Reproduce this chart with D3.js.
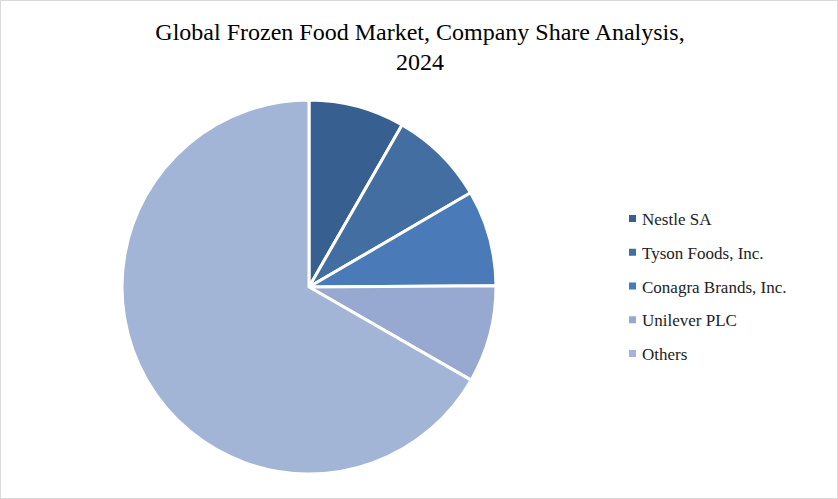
<!DOCTYPE html>
<html><head><meta charset="utf-8">
<script src="https://cdn.jsdelivr.net/npm/d3@7"></script>
<style>body{margin:0;background:#fff}svg{display:block}</style>
</head><body>
<script>
const categories = ["Nestle SA","Tyson Foods, Inc.","Conagra Brands, Inc.","Unilever PLC","Others"];
const shares = [8.3, 8.3, 8.3, 8.4, 66.7];
const colors = ["#375f8f","#436ea1","#4a7bb8","#97a9d1","#a3b5d6"];
const W=838,H=499;
const svg=d3.select("body").append("svg").attr("width",W).attr("height",H);
svg.append("rect").attr("x",0.5).attr("y",0.5).attr("width",W-1).attr("height",H-1).attr("fill","#fff").attr("stroke","#d9d9d9");
svg.append("text").attr("x",420).attr("y",40).attr("text-anchor","middle").attr("font-family","Liberation Serif").attr("font-size",24).text("Global Frozen Food Market, Company Share Analysis,");
svg.append("text").attr("x",420).attr("y",70).attr("text-anchor","middle").attr("font-family","Liberation Serif").attr("font-size",24).text("2024");
const pie=d3.pie().sort(null)(shares);
const arc=d3.arc().innerRadius(0).outerRadius(187);
const g=svg.append("g").attr("transform","translate(309,287)");
g.selectAll("path").data(pie).join("path").attr("d",arc).attr("fill",(d,i)=>colors[i]).attr("stroke","#fff").attr("stroke-width",3);
const y=d3.scalePoint().domain(categories).range([219,354]);
const lg=svg.append("g");
categories.forEach((c,i)=>{
  lg.append("rect").attr("x",629).attr("y",y(c)-4).attr("width",7).attr("height",7).attr("fill",colors[i]);
  lg.append("text").attr("x",642).attr("y",y(c)+6).attr("font-family","Liberation Serif").attr("font-size",17).attr("fill","#222").text(c);
});
</script>
</body></html>
